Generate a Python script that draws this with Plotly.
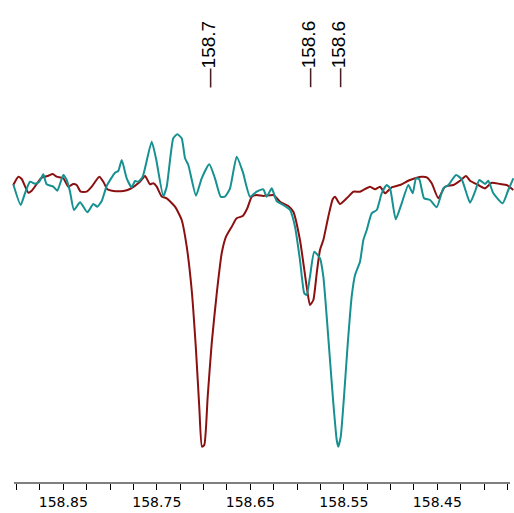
import plotly.graph_objects as go

# chemical shift (ppm) and intensity (arbitrary units)
red_ppm = [158.9035, 158.8981, 158.8945, 158.8874, 158.8838, 158.8792, 158.8731, 158.8660, 158.8613, 158.8571,
           158.8500, 158.8447, 158.8393, 158.8357, 158.8314, 158.8250, 158.8196, 158.8115, 158.8072, 158.8029,
           158.7965, 158.7858, 158.7787, 158.7680, 158.7626, 158.7573, 158.7538, 158.7501, 158.7448, 158.7394,
           158.7305, 158.7234, 158.7180, 158.7127, 158.7081, 158.7046, 158.7017, 158.6992, 158.6956, 158.6913,
           158.6859, 158.6806, 158.6760, 158.6699, 158.6646, 158.6581, 158.6532, 158.6485, 158.6432, 158.6361,
           158.6254, 158.6182, 158.6094, 158.6040, 158.5969, 158.5897, 158.5862, 158.5826, 158.5790, 158.5755,
           158.5719, 158.5666, 158.5619, 158.5594, 158.5541, 158.5469, 158.5398, 158.5327, 158.5220, 158.5166,
           158.5113, 158.5059, 158.4988, 158.4899, 158.4792, 158.4667, 158.4613, 158.4560, 158.4489, 158.4418,
           158.4329, 158.4257, 158.4193, 158.4150, 158.4062, 158.3990, 158.3918, 158.3830, 158.3758, 158.3687]
red_int = [-2, 6.3, 4, -9.7, -7.7, -2, 5.3, 7.3, 9, 6.3,
           4.7, -3.7, -1, -2, -8.7, -8.7, -3.7, 6.3, 1.3, -6.3,
           -8, -8, -6, 1.3, 7, -1.3, -0.3, -3.7, -13.5, -15.3,
           -23.7, -37, -63.7, -107, -167, -223.7, -263.7, -262, -213.7, -160.3,
           -110.3, -70.3, -53.7, -43.7, -35.3, -33, -25.3, -13.7, -12, -13,
           -12, -18.7, -23, -28.7, -57, -103.7, -122, -117, -90.3, -67,
           -57, -33.7, -16.3, -13.7, -21, -15.3, -8.7, -8.7, -3.7, -6.3,
           -3.7, -10.3, -4.3, -2, 3, 6.3, 5.7, -0.3, -15.3, -3.7,
           -2, 2.3, 7, 2.3, -2, -5.3, 0.3, -1, -2, -7]

teal_ppm = [158.9035, 158.8956, 158.8910, 158.8856, 158.8803, 158.8757, 158.8714, 158.8678, 158.8607, 158.8564,
            158.8500, 158.8464, 158.8428, 158.8386, 158.8321, 158.8243, 158.8179, 158.8136, 158.8089, 158.8036,
            158.7947, 158.7912, 158.7875, 158.7822, 158.7769, 158.7733, 158.7698, 158.7651, 158.7555, 158.7509,
            158.7431, 158.7394, 158.7324, 158.7281, 158.7234, 158.7198, 158.7163, 158.7081, 158.7020, 158.6939,
            158.6878, 158.6817, 158.6771, 158.6717, 158.6646, 158.6581, 158.6503, 158.6432, 158.6361, 158.6325,
            158.6271, 158.6218, 158.6147, 158.6075, 158.6022, 158.5969, 158.5923, 158.5897, 158.5862, 158.5816,
            158.5755, 158.5719, 158.5683, 158.5648, 158.5612, 158.5576, 158.5559, 158.5533, 158.5498, 158.5463,
            158.5416, 158.5380, 158.5327, 158.5291, 158.5255, 158.5202, 158.5148, 158.5095, 158.5041, 158.5006,
            158.4945, 158.4881, 158.4810, 158.4763, 158.4728, 158.4693, 158.4642, 158.4578, 158.4507, 158.4436,
            158.4382, 158.4300, 158.4239, 158.4150, 158.4097, 158.4051, 158.3990, 158.3955, 158.3901, 158.3801,
            158.3741, 158.3687]
teal_int = [-1.3, -22, -10.3, 1.3, -0.7, 1.3, 8.7, -1.3, -3.7, -7.7,
            8, 3, -8.7, -27, -19.3, -29.3, -21, -23.7, -18, -3,
            10.3, 12, 23, 4.7, -4.3, 2, 1.3, 6.3, 41.3, 24.7,
            -13, -3.7, 44.7, 48.7, 44.7, 24.7, 18, -12.7, 4.7, 18.7,
            4.7, -13.7, -13.7, -5.3, 26.3, 11.3, -13.7, -8.7, -6.3, -13.7,
            -5.3, -18, -22, -27, -43.7, -77, -110.3, -112, -93.7, -68.7,
            -75.3, -93.7, -133.7, -177, -220.3, -257, -263.7, -253.7, -213.7, -167,
            -113.7, -92, -78.7, -57, -47, -30.3, -27, -10.3, -2, -5.3,
            -36.3, -20.3, -2, -10.3, 4.7, 3.7, -15.3, -17, -24.3, -5.3,
            -2, 8, 3.7, -19.7, -8.7, 3, -1, 2.3, -10.3, -20.3,
            -7, 4.7]

peak_ppm = [158.6952, 158.5883, 158.5562]
peak_labels = ["—158.7", "—158.6", "—158.6"]

tick_vals = [158.85, 158.75, 158.65, 158.55, 158.45]
tick_text = ["158.85", "158.75", "158.65", "158.55", "158.45"]

fig = go.Figure()
fig.add_trace(go.Scatter(x=red_ppm, y=red_int, mode="lines",
                         line=dict(color="#8b1010", width=2, shape="spline", smoothing=0.5),
                         hoverinfo="skip"))
fig.add_trace(go.Scatter(x=teal_ppm, y=teal_int, mode="lines",
                         line=dict(color="#169090", width=2, shape="spline", smoothing=0.5),
                         hoverinfo="skip"))

for p, t in zip(peak_ppm, peak_labels):
    fig.add_annotation(x=p, xref="x", y=0.814, yref="paper", text=t, textangle=-90,
                       showarrow=False, yanchor="bottom", xanchor="center",
                       font=dict(family="Liberation Sans, Arial", size=19, color="black"))

fig.add_shape(type="line", xref="paper", yref="paper", x0=14/514, x1=510/514, y0=0, y1=0,
              line=dict(color="black", width=1))

fig.update_layout(
    width=514, height=513,
    margin=dict(l=0, r=0, t=0, b=30),
    paper_bgcolor="white", plot_bgcolor="white",
    showlegend=False,
    hovermode=False,
    xaxis=dict(range=[158.9177, 158.3680], showgrid=False, zeroline=False, showline=False,
               tickmode="array", tickvals=tick_vals, ticktext=tick_text,
               ticks="outside", ticklen=6, tickcolor="black", tickwidth=1,
               tickfont=dict(family="DejaVu Sans", size=14, color="black"),
               minor=dict(dtick=0.025, tick0=158.85, ticks="outside", ticklen=6,
                          tickcolor="black", tickwidth=1, showgrid=False)),
    yaxis=dict(range=[-300, 183], visible=False, showgrid=False, zeroline=False),
)

fig.write_html("out.html", config={"displayModeBar": False, "staticPlot": True},
               post_script="document.body.style.margin='0';")
